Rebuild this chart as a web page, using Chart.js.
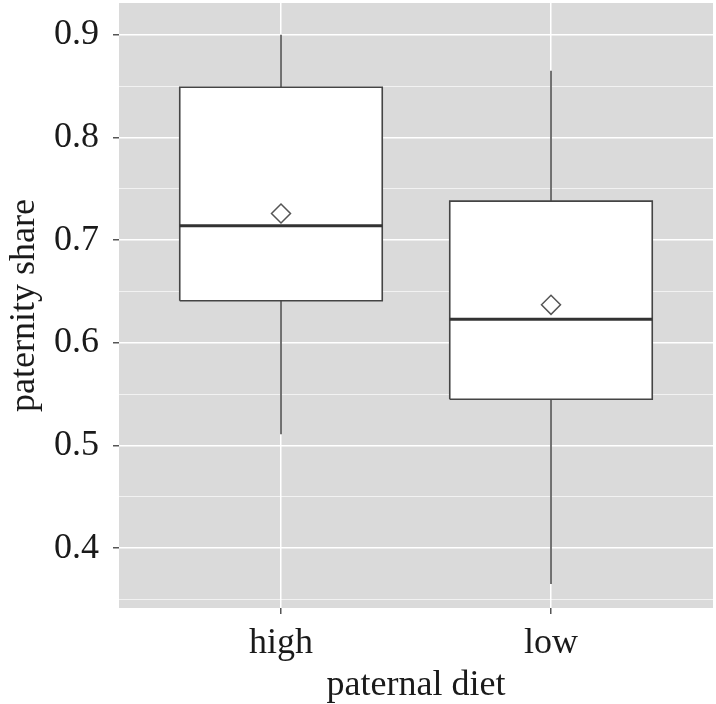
<!DOCTYPE html>
<html>
<head>
<meta charset="utf-8">
<script src="https://cdn.jsdelivr.net/npm/chart.js@4.4.1/dist/chart.umd.min.js"></script>
<style>
html,body{margin:0;padding:0;background:#fff;}
#wrap{width:716px;height:704px;}
</style>
</head>
<body>
<div id="wrap"><canvas id="c" width="716" height="704"></canvas></div>
<script>
// ---- data ----
const categories = ['high', 'low'];
const whiskerLow = [0.511, 0.365];
const q1 = [0.641, 0.545];
const median = [0.714, 0.623];
const q3 = [0.849, 0.738];
const whiskerHigh = [0.900, 0.865];
const means = [0.726, 0.637];
const yTickValues = [0.35, 0.4, 0.45, 0.5, 0.55, 0.6, 0.65, 0.7, 0.75, 0.8, 0.85, 0.9];
const yMajorTicks = [0.4, 0.5, 0.6, 0.7, 0.8, 0.9];

const BOX_HALF = 0.375;
const LINE = '#444444';
const serif = '"Liberation Serif", "Times New Roman", serif';

const isMajor = v => yMajorTicks.some(m => Math.abs(m - v) < 1e-6);

const datasets = [];
categories.forEach((cat, i) => {
  const x = i + 1;
  // whiskers
  datasets.push({type:'scatter', order:4, showLine:true, data:[{x:x,y:q3[i]},{x:x,y:whiskerHigh[i]}],
    borderColor:LINE, borderWidth:1.5, pointRadius:0, fill:false});
  datasets.push({type:'scatter', order:4, showLine:true, data:[{x:x,y:whiskerLow[i]},{x:x,y:q1[i]}],
    borderColor:LINE, borderWidth:1.5, pointRadius:0, fill:false});
  // box
  datasets.push({type:'scatter', order:3, showLine:true, data:[
      {x:x-BOX_HALF,y:q1[i]},{x:x+BOX_HALF,y:q1[i]},{x:x+BOX_HALF,y:q3[i]},{x:x-BOX_HALF,y:q3[i]},{x:x-BOX_HALF,y:q1[i]}],
    borderColor:LINE, borderWidth:1.6, backgroundColor:'#ffffff', fill:'shape', pointRadius:0, tension:0});
  // median
  datasets.push({type:'scatter', order:2, showLine:true, data:[{x:x-BOX_HALF,y:median[i]},{x:x+BOX_HALF,y:median[i]}],
    borderColor:'#333333', borderWidth:3, pointRadius:0, fill:false});
  // mean
  datasets.push({type:'scatter', order:1, data:[{x:x,y:means[i]}], pointStyle:'rectRot', pointRadius:9.5,
    pointBackgroundColor:'#ffffff', pointBorderColor:'#555555', pointBorderWidth:1.5});
});

const panelBg = {
  id:'panelBg',
  beforeDraw(chart){
    const a = chart.chartArea, ctx = chart.ctx;
    ctx.save();
    ctx.fillStyle = '#dadada';
    ctx.fillRect(a.left, a.top, a.right - a.left, a.bottom - a.top);
    ctx.restore();
  }
};

new Chart(document.getElementById('c'), {
  type:'scatter',
  data:{datasets},
  plugins:[panelBg],
  options:{
    responsive:false,
    animation:false,
    layout:{autoPadding:false, padding:{top:3, right:3, left:0, bottom:0}},
    plugins:{legend:{display:false}, tooltip:{enabled:false}},
    scales:{
      x:{
        type:'linear', min:0.4, max:2.6,
        afterBuildTicks(s){ s.ticks = categories.map((c,i)=>({value:i+1})); },
        afterFit(s){ s.height = 96; s.paddingLeft = 0; s.paddingRight = 0; },
        border:{display:false},
        grid:{color:'#ffffff', lineWidth:1.5, tickColor:'#555555', tickLength:6, drawTicks:true},
        ticks:{callback:(v)=>categories[Math.round(v)-1] || '', color:'#1a1a1a', font:{family:serif, size:36}, padding:8, maxRotation:0},
        title:{display:true, text:'paternal diet', color:'#1a1a1a', font:{family:serif, size:36, lineHeight:1.0}, padding:{top:0,bottom:0}}
      },
      y:{
        type:'linear', min:0.3417, max:0.931,
        afterBuildTicks(s){ s.ticks = yTickValues.map(v=>({value:v})); },
        afterFit(s){ s.width = 119; s.paddingTop = 0; s.paddingBottom = 0; },
        border:{display:false},
        grid:{
          color:(ctx)=> isMajor(ctx.tick.value) ? '#ffffff' : 'rgba(255,255,255,0.8)',
          lineWidth:(ctx)=> isMajor(ctx.tick.value) ? 1.5 : 0.8,
          tickColor:(ctx)=> isMajor(ctx.tick.value) ? '#555555' : 'rgba(0,0,0,0)',
          tickLength:6
        },
        ticks:{callback:(v)=> isMajor(v) ? v.toFixed(1) : '', color:'#1a1a1a', font:{family:serif, size:36}, padding:14},
        title:{display:true, text:'paternity share', color:'#1a1a1a', font:{family:serif, size:36}, padding:{top:3,bottom:0}}
      }
    }
  }
});
</script>
</body>
</html>
